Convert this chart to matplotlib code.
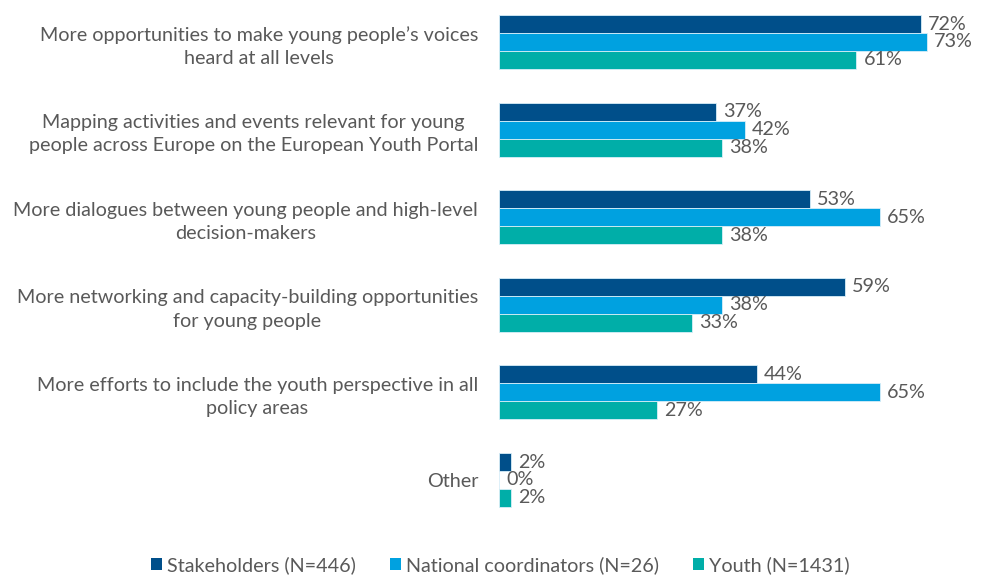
import numpy as np
import matplotlib.pyplot as plt
from matplotlib.patches import Patch

categories = [
    "More opportunities to make young people\u2019s voices\nheard at all levels",
    "Mapping activities and events relevant for young\npeople across Europe on the European Youth Portal",
    "More dialogues between young people and high-level\ndecision-makers",
    "More networking and capacity-building opportunities\nfor young people",
    "More efforts to include the youth perspective in all\npolicy areas",
    "Other",
]
stakeholders = [72, 37, 53, 59, 44, 2]
coordinators = [73, 42, 65, 38, 65, 0]
youth = [61, 38, 38, 33, 27, 2]
series_names = ["Stakeholders (N=446)", "National coordinators (N=26)", "Youth (N=1431)"]
colors = ["#004f8a", "#00a1e0", "#00aea8"]

plt.rcParams['font.family'] = ['Lato', 'DejaVu Sans']
txt = "#595959"
fs = 14.2

fig = plt.figure(figsize=(9.81, 5.77), dpi=100)
ax = fig.add_axes([499/981, 47/577, 1 - 499/981, 530/577])

y = np.arange(len(categories))
h = 0.205
for k, vals in enumerate([stakeholders, coordinators, youth]):
    pos = y + (k - 1) * h
    ax.barh(pos, vals, height=h, color=colors[k], edgecolor="#d8eef8", linewidth=0.6)
    for p, v in zip(pos, vals):
        ax.text(v + 1.2, p, f"{v}%", va="center", ha="left", fontsize=fs, color=txt)

ax.set_xlim(0, 482/5.86)
ax.set_ylim(5.571, -0.479)
ax.set_yticks(y)
ax.set_yticklabels(categories, fontsize=fs, color=txt, multialignment="center",
                   linespacing=1.45)
ax.tick_params(axis="y", length=0, pad=15)
ax.set_xticks([])
for s in ax.spines.values():
    s.set_visible(False)

handles = [Patch(facecolor=c, edgecolor="none") for c in colors]
fig.legend(handles, series_names, loc="center", bbox_to_anchor=(0.51, 12/577),
           ncol=3, frameon=False, fontsize=fs, labelcolor=txt,
           handlelength=0.55, handleheight=0.55, handletextpad=0.25, columnspacing=1.75,
           borderpad=0)

fig.savefig("out.png", dpi=100)
